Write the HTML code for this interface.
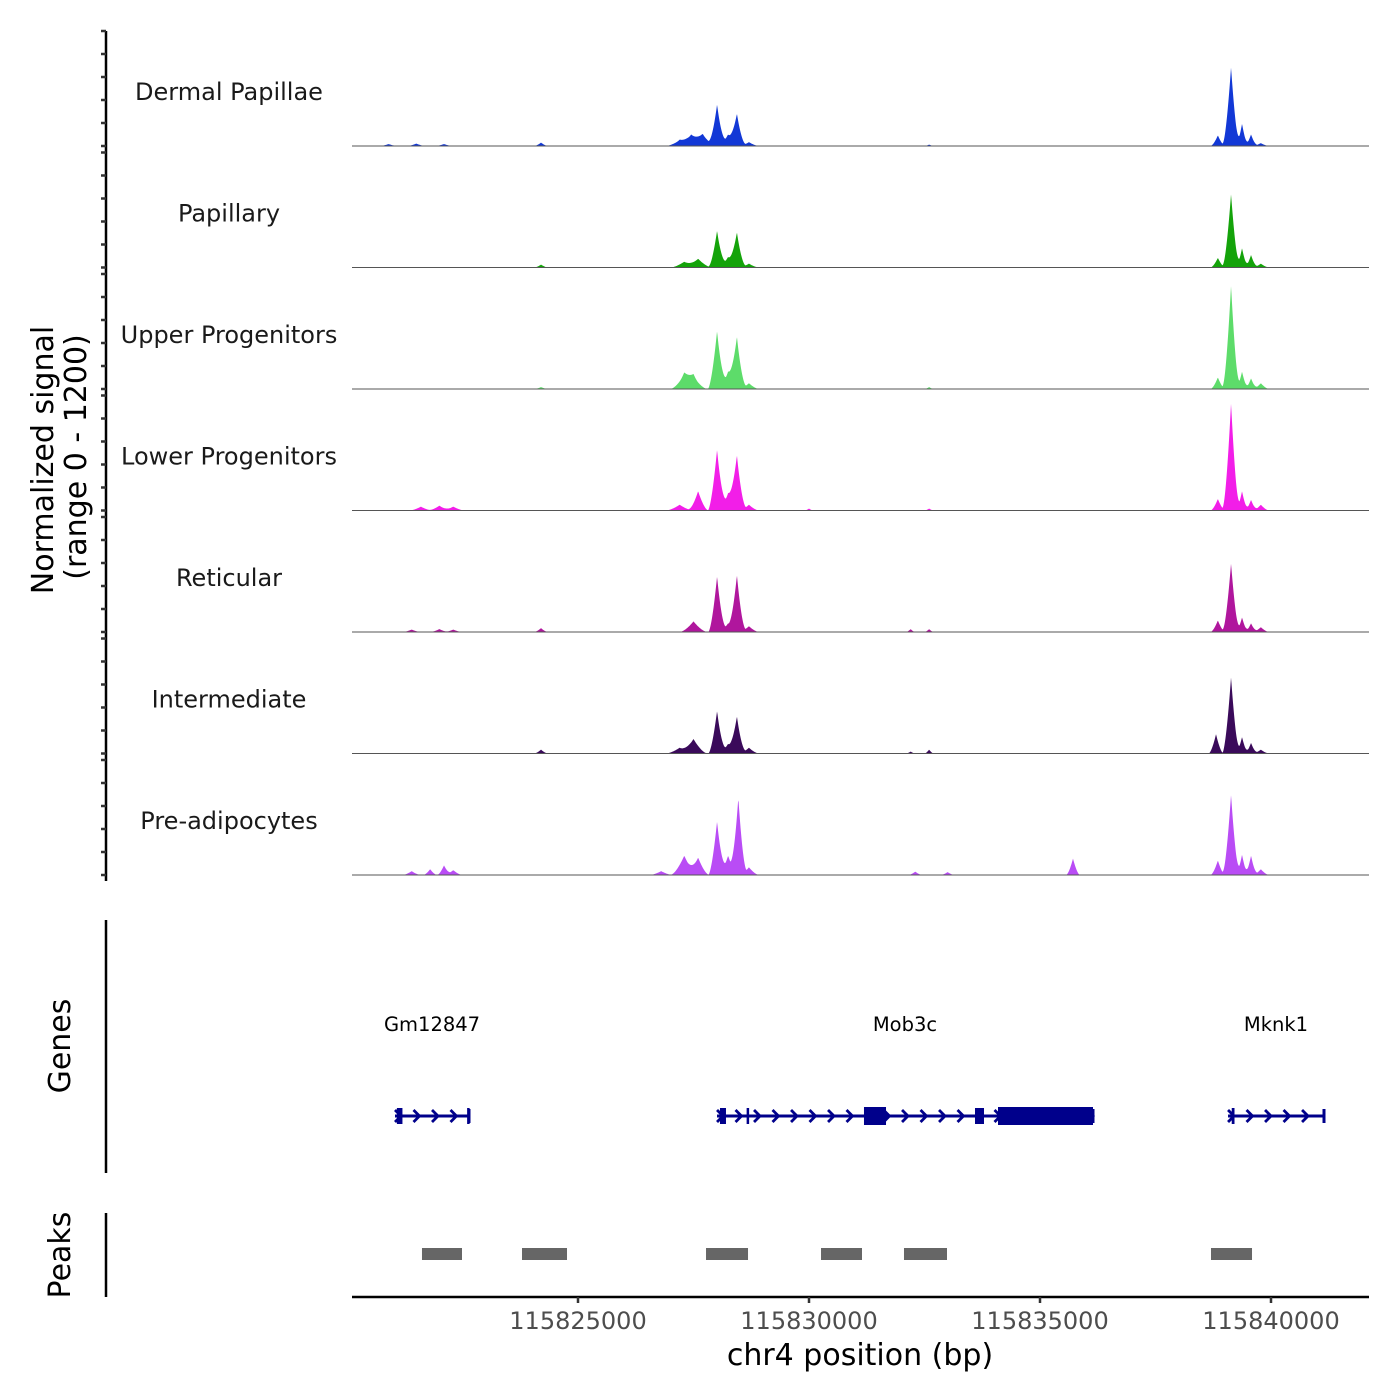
<!DOCTYPE html>
<html><head><meta charset="utf-8"><style>
html,body{margin:0;padding:0;background:#fff;}
svg{display:block;font-family:"DejaVu Sans","Liberation Sans",sans-serif;}
</style></head><body>
<svg id="chart" width="1400" height="1400" viewBox="0 0 1400 1400">
<g id="tracks"></g>
<g id="left"></g>
<text transform="translate(53,460) rotate(-90)" text-anchor="middle" font-size="30" fill="#000">Normalized signal</text>
<text transform="translate(86,457) rotate(-90)" text-anchor="middle" font-size="30" fill="#000">(range 0 - 1200)</text>
<g id="genes"></g>
<line x1="106" y1="920" x2="106" y2="1173" stroke="#000" stroke-width="2.5"/>
<text transform="translate(70,1046) rotate(-90)" text-anchor="middle" font-size="30">Genes</text>
<g id="peaks"></g>
<line x1="106" y1="1213" x2="106" y2="1297" stroke="#000" stroke-width="2.5"/>
<text transform="translate(70,1255) rotate(-90)" text-anchor="middle" font-size="30">Peaks</text>
<g id="xaxis"></g>
<text x="860" y="1365" text-anchor="middle" font-size="30">chr4 position (bp)</text>
</svg>
<script>
const trackNames = ["Dermal Papillae","Papillary","Upper Progenitors","Lower Progenitors","Reticular","Intermediate","Pre-adipocytes"];
const trackColors = ["#1238d6","#14a30a","#5ddc6a","#f21ee8","#b0169d","#3a0a5a","#b94cf5"];
// peak positions (bp) per track, heights (signal units, max 1200), widths (bp half-width)
const peakPos = [
 [115820900,115821500,115822100,115824200,115827200,115827450,115827700,115828010,115828250,115828440,115828700,115838850,115839135,115839373,115839568,115839780,115832600],
 [115824200,115827300,115827600,115828010,115828250,115828440,115828700,115838850,115839135,115839373,115839568,115839780],
 [115824200,115827300,115827500,115828010,115828250,115828440,115828700,115838850,115839135,115839373,115839568,115839780,115832600],
 [115821600,115822000,115822300,115827200,115827600,115828010,115828250,115828440,115828700,115838850,115839135,115839373,115839568,115839780,115832600,115830000],
 [115821400,115822000,115822300,115824200,115827500,115828010,115828250,115828440,115828700,115838850,115839135,115839373,115839568,115839780,115832200,115832600],
 [115824200,115827200,115827500,115828010,115828250,115828440,115828700,115838810,115839135,115839373,115839568,115839780,115832600,115832200],
 [115821400,115821800,115822100,115822300,115826800,115827300,115827600,115828010,115828250,115828470,115828700,115838850,115839135,115839373,115839568,115839780,115835714,115832300,115833000]
];
const peakHeights = [
 [20,25,20,35,60,110,120,430,120,330,40,110,815,230,120,30,15],
 [30,60,90,380,110,360,40,100,760,200,130,40],
 [20,150,130,600,180,535,60,120,1070,180,110,60,20],
 [40,50,40,60,200,630,180,565,60,120,1110,200,110,60,20,20],
 [25,30,25,40,110,575,90,585,60,120,710,150,90,50,30,30],
 [40,60,150,440,100,380,60,200,790,170,110,40,40,20],
 [40,60,100,50,40,200,180,555,200,800,80,150,830,210,200,60,170,35,30]
];
const peakWidths = [
 [200,200,200,150,300,300,300,190,220,190,220,160,190,140,140,180,100],
 [150,300,300,190,220,190,220,160,190,140,140,180],
 [150,300,300,200,220,200,220,160,190,140,140,180,100],
 [250,250,250,300,220,200,220,200,220,160,190,140,140,180,100,100],
 [200,200,200,150,300,190,220,190,220,160,190,140,140,180,100,100],
 [150,300,300,190,220,190,220,160,190,140,140,180,100,100],
 [200,150,150,200,250,300,240,190,220,180,220,160,190,140,140,180,150,150,150]
];
const xTicks = [115825000,115830000,115835000,115840000];
const geneNames = ["Gm12847","Mob3c","Mknk1"];
const geneStart = [115821039,115828009,115839070];
const geneEnd = [115822641,115836147,115841147];
const exonStart = [[115821080,115822600],[115828073,115828650,115831190,115833593,115834091],[115839150]];
const exonEnd = [[115821200,115822641],[115828203,115828700,115831667,115833788,115836147],[115839210]];
const exonTall = [[false,false],[false,false,true,false,true],[false]];
const peakStart = [115821623,115823788,115827771,115830260,115832056,115838701];
const peakEnd = [115822489,115824762,115828680,115831147,115832987,115839589];

const NS="http://www.w3.org/2000/svg";
const X0=352,X1=1369;
function xs(bp){return 578+(bp-115825000)*231/5000;}
const trackH=121.5, base0=146, maxH=116;
function ys(v){return v/1200*maxH;}
function mk(tag,attrs,parent){const e=document.createElementNS(NS,tag);for(const k in attrs)e.setAttribute(k,attrs[k]);parent.appendChild(e);return e;}

const tg=document.getElementById('tracks');
for(let t=0;t<trackNames.length;t++){
  const base=base0+t*trackH;
  let d=`M${X0},${base}`;
  for(let px=X0;px<=X1;px+=0.5){
    const bp=115825000+(px-578)*5000/231;
    let v=0;
    for(let i=0;i<peakPos[t].length;i++){
      const dd=Math.abs(bp-peakPos[t][i])/peakWidths[t][i];
      if(dd<1)v+=peakHeights[t][i]*Math.pow(1-dd,1.6);
    }
    d+=`L${px},${(base-ys(Math.min(v,1200))).toFixed(2)}`;
  }
  d+=`L${X1},${base}Z`;
  const p=mk('path',{d:d,fill:trackColors[t]},tg);
  
  
  const l=mk('line',{x1:X0,y1:base,x2:X1,y2:base,stroke:'#555','stroke-width':1},tg);
  
  
  const tx=mk('text',{x:229,y:base-46,'text-anchor':'middle','font-size':24,fill:'#1a1a1a'},tg);
  tx.textContent=trackNames[t];
  
  
}
const lg=document.getElementById('left');
const ax=mk('line',{x1:106,y1:31,x2:106,y2:881,stroke:'#000','stroke-width':2.5},lg);


for(let t=0;t<7;t++){
  const base=base0+t*trackH;
  for(let k=0;k<=5;k++){
    const y=base-k*23;
    const tk=mk('line',{x1:101,y1:y,x2:106,y2:y,stroke:'#333','stroke-width':2.5},lg);
    
    
  }
}
// genes
const gg=document.getElementById('genes');
const gy=1116;
for(let g=0;g<geneNames.length;g++){
  const a=xs(geneStart[g]),b=xs(geneEnd[g]);
  const ln=mk('line',{x1:a,y1:gy,x2:b,y2:gy,stroke:'#00008b','stroke-width':3},gg);
  
  
  for(let x=a;x<b-4;x+=18.5){
    const ch=mk('path',{d:`M${x},${gy-6}L${x+6},${gy}L${x},${gy+6}`,fill:'none',stroke:'#00008b','stroke-width':2.8},gg);
    
    
  }
  const ec=mk('line',{x1:b,y1:gy-7,x2:b,y2:gy+7,stroke:'#00008b','stroke-width':3},gg);
  
  
  for(let e=0;e<exonStart[g].length;e++){
    const ex0=xs(exonStart[g][e]),ex1=xs(exonEnd[g][e]);
    const h=exonTall[g][e]?18:16;
    const r=mk('rect',{x:ex0,y:gy-h/2,width:Math.max(2.5,ex1-ex0),height:h,fill:'#00008b'},gg);
    
    
  }
  const lab=mk('text',{x:(a+b)/2,y:1031,'text-anchor':'middle','font-size':19.5,fill:'#000'},gg);
  lab.textContent=geneNames[g];
  
  
}
// peaks
const pg=document.getElementById('peaks');
for(let i=0;i<peakStart.length;i++){
  const r=mk('rect',{x:xs(peakStart[i]),y:1248,width:xs(peakEnd[i])-xs(peakStart[i]),height:12,fill:'#666'},pg);
  
  
}
// x axis
const xg=document.getElementById('xaxis');
const xl=mk('line',{x1:X0,y1:1297,x2:X1,y2:1297,stroke:'#000','stroke-width':2.5},xg);


for(const v of xTicks){
  const x=xs(v);
  const tk=mk('line',{x1:x,y1:1297,x2:x,y2:1303,stroke:'#333','stroke-width':2.5},xg);
  
  
  const tl=mk('text',{x:x,y:1329,'text-anchor':'middle','font-size':24,fill:'#4d4d4d'},xg);
  tl.textContent=String(v);
  
  
}
</script>
</body></html>
